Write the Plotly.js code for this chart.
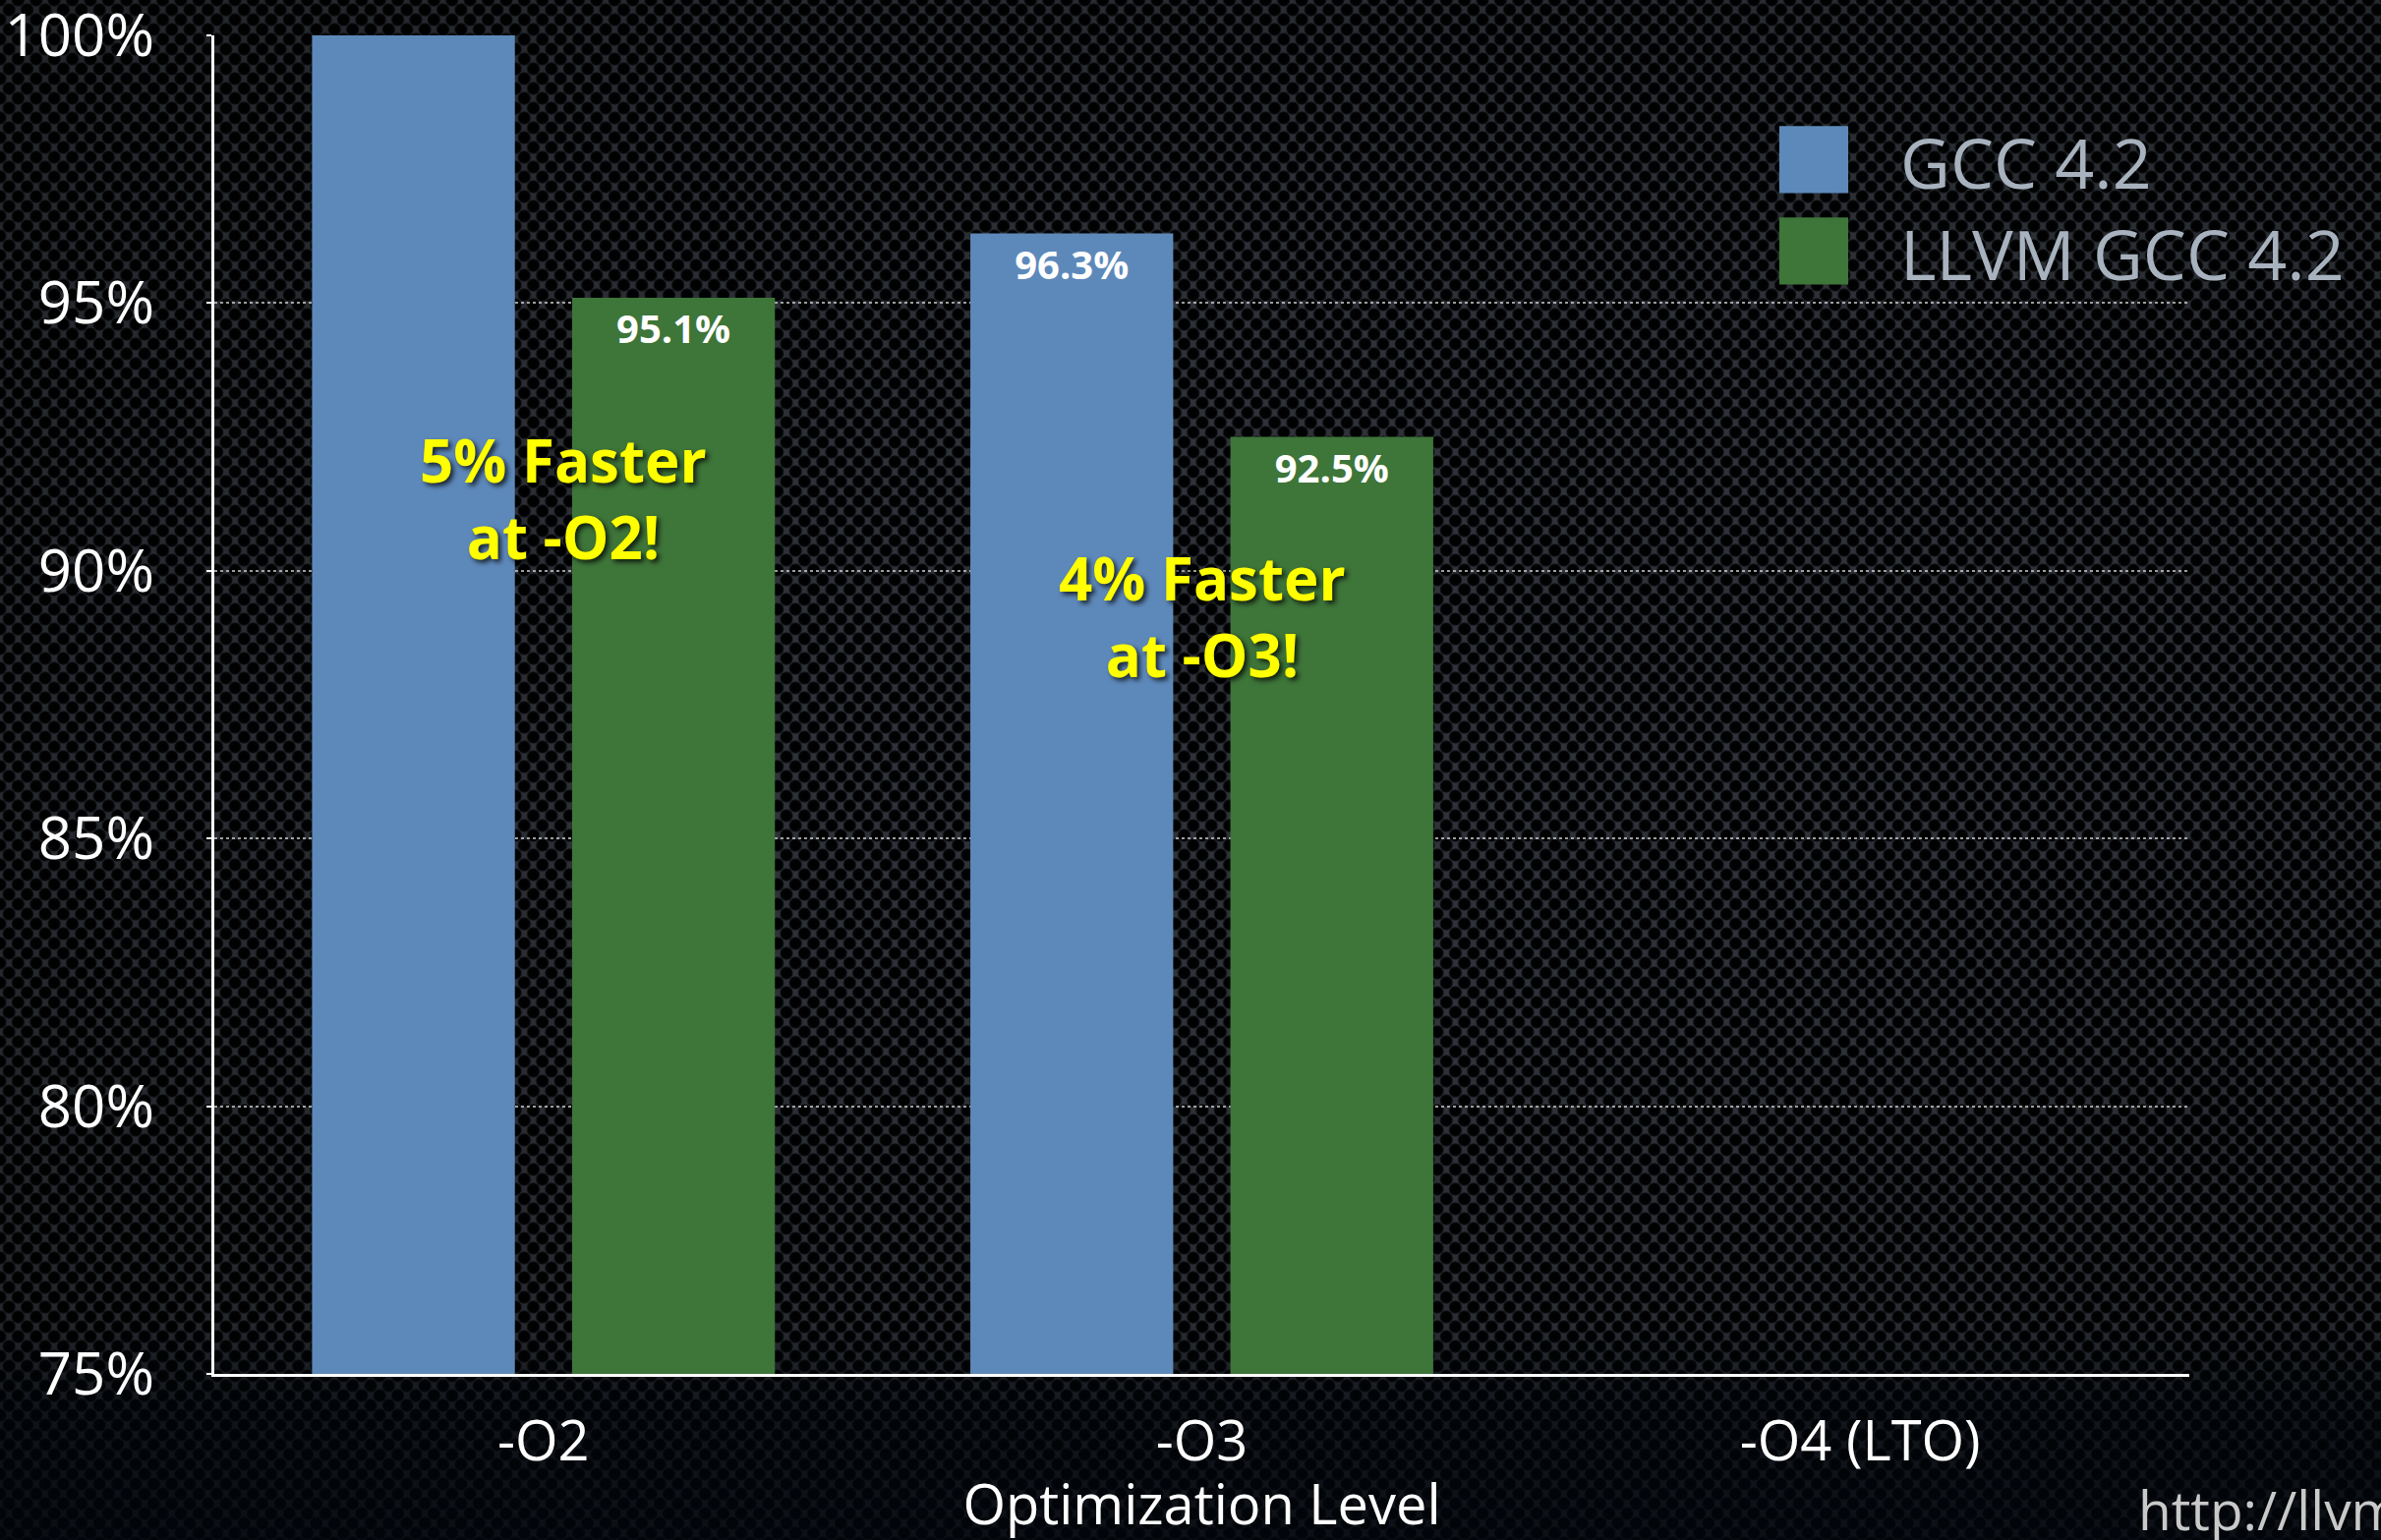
<!DOCTYPE html>
<html>
<head>
<meta charset="utf-8">
<script src="https://cdn.plot.ly/plotly-3.0.1.min.js"></script>
<style>
  html, body { margin: 0; padding: 0; }
  body {
    width: 2422px; height: 1567px; overflow: hidden;
    background-color: #34383e;
    background-image:
      linear-gradient(to bottom, rgba(0,0,0,0) 0%, rgba(0,0,0,0) 86%, rgba(2,6,12,0.55) 92%, rgba(2,6,12,0.7) 100%),
      radial-gradient(ellipse at 60% 45%, rgba(0,0,0,0.1) 30%, rgba(0,0,0,0.4) 100%),
      radial-gradient(circle at center, #000 0, #010203 5px, #111418 6.2px, rgba(0,0,0,0) 7px),
      radial-gradient(circle at center, #000 0, #010203 5px, #111418 6.2px, rgba(0,0,0,0) 7px);
    background-size: 100% 100%, 100% 100%, 18.4px 20px, 18.4px 20px;
    background-position: 0 0, 0 0, 0 0, 9.2px 10px;
  }
  #chart { width: 2422px; height: 1567px; }
</style>
</head>
<body>
<div id="chart"></div>
<script>
const categories = ['-O2', '-O3', '-O4 (LTO)'];
const seriesNames = ['GCC 4.2', 'LLVM GCC 4.2'];
const gccValues = [100, 96.3, null];
const llvmValues = [95.1, 92.5, null];
const gccLabels = ['', '96.3%', ''];
const llvmLabels = ['95.1%', '92.5%', ''];
const yTickVals = [75, 80, 85, 90, 95, 100];
const yTickText = ['75%', '80%', '85%', '90%', '95%', '100%'];
const calloutTexts = ['5% Faster<br>at -O2!', '4% Faster<br>at -O3!'];
const calloutX = [0.03, 1.0];
const calloutY = [91.35, 89.15];
const sourceText = 'http://llvm.org/';

const blue = '#5d89ba';
const green = '#3e7539';
const FONT = '"Open Sans", "Noto Sans", sans-serif';

const traces = [
  {
    type: 'bar', name: seriesNames[0], x: categories, y: gccValues,
    marker: { color: blue }, text: gccLabels, textposition: 'inside',
    insidetextanchor: 'end', textangle: 0,
    textfont: { family: FONT, size: 40, color: '#ffffff', weight: 'bold' },
    hoverinfo: 'skip'
  },
  {
    type: 'bar', name: seriesNames[1], x: categories, y: llvmValues,
    marker: { color: green }, text: llvmLabels, textposition: 'inside',
    insidetextanchor: 'end', textangle: 0,
    textfont: { family: FONT, size: 40, color: '#ffffff', weight: 'bold' },
    hoverinfo: 'skip'
  }
];

const annotations = calloutTexts.map((t, i) => ({
  xref: 'x', yref: 'y', x: calloutX[i], y: calloutY[i], text: t,
  showarrow: false, xanchor: 'center', yanchor: 'middle',
  font: { family: FONT, size: 60, color: '#ffff00', weight: 'bold',
          shadow: '3px 3px 5px rgba(0,0,0,0.75)' }
}));

// legend (custom, large swatches)
const legendColors = [blue, green];
const legendY = [0.9072, 0.8389];
const shapes = [];
seriesNames.forEach((n, i) => {
  shapes.push({
    type: 'rect', xref: 'paper', yref: 'paper',
    x0: 0.7924, x1: 0.8273, y0: legendY[i] - 0.0250, y1: legendY[i] + 0.0250,
    fillcolor: legendColors[i], line: { width: 0 }
  });
  annotations.push({
    xref: 'paper', yref: 'paper', x: 0.8527, y: legendY[i] - 0.002, text: n,
    showarrow: false, xanchor: 'left', yanchor: 'middle',
    font: { family: FONT, size: 70, color: '#a7b2be' }
  });
});

annotations.push({
  xref: 'paper', yref: 'paper', x: 0.9731, y: -0.101, text: sourceText,
  showarrow: false, xanchor: 'left', yanchor: 'middle',
  font: { family: FONT, size: 55, color: '#c9c9c9' }
});

const layout = {
  width: 2422, height: 1567,
  margin: { l: 218, r: 195, t: 35.5, b: 169, pad: 0 },
  paper_bgcolor: 'rgba(0,0,0,0)',
  plot_bgcolor: 'rgba(0,0,0,0)',
  showlegend: false,
  barmode: 'group',
  bargap: 0.21,
  bargroupgap: 0.22,
  font: { family: FONT, color: '#ffffff' },
  xaxis: {
    type: 'category', categoryorder: 'array', categoryarray: categories,
    range: [-0.5, 2.5],
    showline: true, linecolor: '#ffffff', linewidth: 3,
    showgrid: false, zeroline: false, ticks: '',
    tickfont: { family: FONT, size: 56, color: '#ffffff' },
    ticklabelstandoff: 18,
    title: { text: 'Optimization Level', font: { family: FONT, size: 56, color: '#ffffff' }, standoff: 8 },
    automargin: false, fixedrange: true
  },
  yaxis: {
    range: [74.999, 100.001], tickmode: 'array', tickvals: yTickVals, ticktext: yTickText,
    showline: true, linecolor: '#ffffff', linewidth: 3,
    ticks: 'outside', ticklen: 5, tickcolor: '#ffffff', tickwidth: 2,
    showgrid: true, gridcolor: 'rgba(210,210,210,0.75)', gridwidth: 2, griddash: 'dot',
    zeroline: false,
    tickfont: { family: FONT, size: 60, color: '#ffffff' },
    ticklabelstandoff: 41,
    ticklabeloverflow: 'allow',
    automargin: false, fixedrange: true
  },
  annotations: annotations,
  shapes: shapes
};

Plotly.newPlot('chart', traces, layout, { displayModeBar: false, staticPlot: true });
</script>
</body>
</html>
